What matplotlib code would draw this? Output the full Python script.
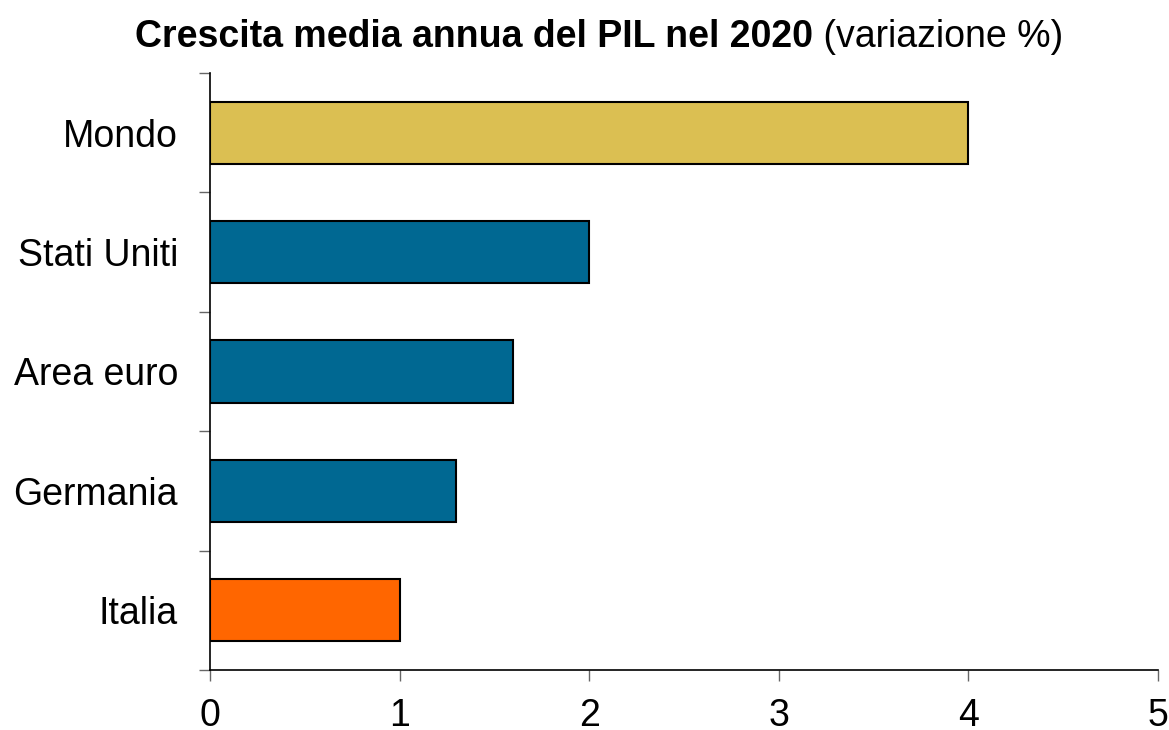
import matplotlib
matplotlib.use("Agg")
import matplotlib.pyplot as plt

plt.rcParams['font.family'] = ['Liberation Sans', 'DejaVu Sans']

paesi = ["Mondo", "Stati Uniti", "Area euro", "Germania", "Italia"]
crescita = [4.0, 2.0, 1.6, 1.3, 1.0]
colori = ["#DBBF52", "#006892", "#006892", "#006892", "#FF6600"]
xtick = [0, 1, 2, 3, 4, 5]

fig = plt.figure(figsize=(11.69, 7.3), dpi=100)
ax = fig.add_axes([0.1796, 0.0822, 0.9906 - 0.1796, 0.9 - 0.0822])

pos = list(range(len(paesi)))[::-1]
ax.barh(pos, crescita, height=0.52, color=colori, edgecolor="black", linewidth=1.5)

ax.set_xlim(0, 5)
ax.set_ylim(-0.5, len(paesi) - 0.5)
ax.set_xticks(xtick)
ax.set_xticklabels([str(v) for v in xtick], fontsize=27)
ax.set_yticks(pos)
ax.set_yticklabels(paesi, fontsize=27)
ax.tick_params(axis="y", length=0, pad=23)
ax.set_yticks([p + 0.5 for p in range(-1, len(paesi))], minor=True)
ax.tick_params(axis="y", which="minor", length=8, color="#666666", width=1)
ax.tick_params(axis="x", length=8, color="#666666", width=1, pad=12)

for s in ["top", "right"]:
    ax.spines[s].set_visible(False)
for s in ["left", "bottom"]:
    ax.spines[s].set_linewidth(1.2)

t1 = fig.text(135 / 1169, (730 - 47) / 730, "Crescita media annua del PIL nel 2020",
              fontsize=27, fontweight="bold", va="baseline", ha="left")
fig.canvas.draw()
ax.annotate(" (variazione %)", xy=(1, 0), xycoords=t1, va="bottom", ha="left",
            fontsize=27)

fig.savefig("out.png", dpi=100)
